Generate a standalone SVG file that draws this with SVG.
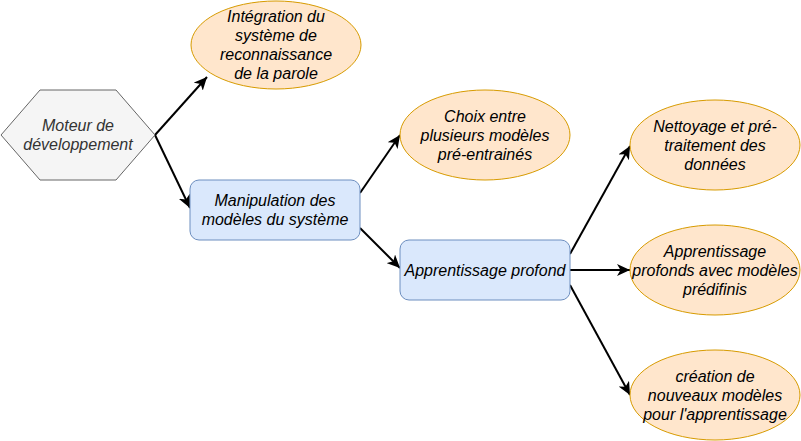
<svg xmlns="http://www.w3.org/2000/svg" width="801" height="441" viewBox="0 0 801 441">
<style>
.ell{fill:#ffe6cc;stroke:#d79b00;stroke-width:1}
.box{fill:#dae8fc;stroke:#6c8ebf;stroke-width:1}
.hex{fill:#f5f5f5;stroke:#666666;stroke-width:1}
text{font-family:"Liberation Sans",Arial,Helvetica,sans-serif;font-size:16px;font-style:italic;text-anchor:middle;fill:#000}
.grey{fill:#333333}
.edge{fill:none;stroke:#000;stroke-width:2}
</style>
<defs>
<marker id="arr" markerUnits="userSpaceOnUse" markerWidth="14" markerHeight="12" viewBox="0 0 14 12" refX="13" refY="6" orient="auto">
<path d="M0,0 L13,6 L0,12 L3.5,6 Z" fill="#000"/>
</marker>
</defs>
<rect width="801" height="441" fill="#fff"/>
<g id="connectors">
<line class="edge" x1="155" y1="135" x2="207" y2="77" marker-end="url(#arr)"/>
<line class="edge" x1="155" y1="135" x2="190" y2="208" marker-end="url(#arr)"/>
<line class="edge" x1="360" y1="193" x2="400" y2="135" marker-end="url(#arr)"/>
<line class="edge" x1="360" y1="228" x2="400" y2="268" marker-end="url(#arr)"/>
<line class="edge" x1="570" y1="254" x2="630" y2="146" marker-end="url(#arr)"/>
<line class="edge" x1="570" y1="270" x2="630" y2="270" marker-end="url(#arr)"/>
<line class="edge" x1="570" y1="285" x2="630" y2="395" marker-end="url(#arr)"/>
</g>
<g id="moteur">
<polygon class="hex" points="1,135 40,90 116,90 155,135 116,180 40,180"/>
<text class="grey" x="78" y="131">Moteur de</text>
<text class="grey" x="78" y="150">développement</text>
</g>
<g id="integration">
<ellipse class="ell" cx="276" cy="45" rx="85" ry="44"/>
<text x="276" y="22">Intégration du</text>
<text x="276" y="41">système de</text>
<text x="276" y="60">reconnaissance</text>
<text x="276" y="79">de la parole</text>
</g>
<g id="manipulation">
<rect class="box" x="190" y="180" width="170" height="60" rx="9" ry="9"/>
<text x="275" y="206">Manipulation des</text>
<text x="275" y="225">modèles du système</text>
</g>
<g id="choix">
<ellipse class="ell" cx="485" cy="135" rx="85" ry="45"/>
<text x="485" y="121.5">Choix entre</text>
<text x="485" y="140.5">plusieurs modèles</text>
<text x="485" y="159.5">pré-entrainés</text>
</g>
<g id="apprentissage">
<rect class="box" x="400" y="240" width="170" height="60" rx="9" ry="9"/>
<text x="485" y="276">Apprentissage profond</text>
</g>
<g id="nettoyage">
<ellipse class="ell" cx="715" cy="145" rx="85" ry="45"/>
<text x="715" y="132">Nettoyage et pré-</text>
<text x="715" y="151">traitement des</text>
<text x="715" y="170">données</text>
</g>
<g id="predefinis">
<ellipse class="ell" cx="715" cy="270" rx="85" ry="45"/>
<text x="715" y="257">Apprentissage</text>
<text x="715" y="276">profonds avec modèles</text>
<text x="715" y="295">prédifinis</text>
</g>
<g id="creation">
<ellipse class="ell" cx="715" cy="395" rx="85" ry="45"/>
<text x="715" y="382">création de</text>
<text x="715" y="401">nouveaux modèles</text>
<text x="715" y="420">pour l'apprentissage</text>
</g>
</svg>
